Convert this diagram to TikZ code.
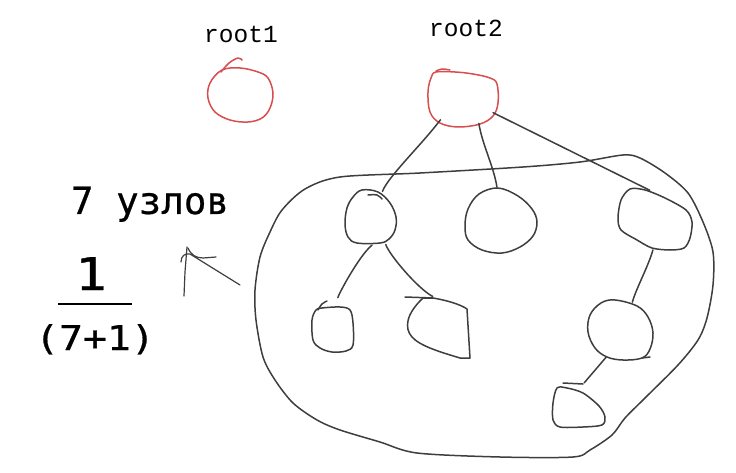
\documentclass[tikz,border=0pt]{standalone}
\usepackage{fontspec}
\usetikzlibrary{shapes.geometric}
\newfontfamily\labelfont{Liberation Mono}
\newfontfamily\notefont[FakeBold=0.6]{DejaVu Sans Mono}
\newfontfamily\fracfont[FakeStretch=1.17,FakeBold=0.8]{DejaVu Sans Mono}
\definecolor{inkgray}{RGB}{62,62,62}
\definecolor{inkred}{RGB}{216,78,78}

\begin{document}
\begin{tikzpicture}[x=1pt,y=-1pt,
  ink/.style={draw=inkgray, line width=1.5pt, line cap=round, line join=round},
  redink/.style={draw=inkred, line width=1.5pt, line cap=round, line join=round},
  spot/.style 2 args={ellipse, minimum width=#1, minimum height=#2, inner sep=0pt, outer sep=0pt},
  rootlabel/.style={font=\labelfont\fontsize{24.5}{28}\selectfont, anchor=base, inner sep=0pt},
  note/.style={font=\notefont\fontsize{37.5}{42}\selectfont, anchor=base, inner sep=0pt},
  fracnum/.style={font=\fracfont\fontsize{45}{50}\selectfont, anchor=base, inner sep=0pt},
  fracden/.style={font=\fracfont\fontsize{34}{40}\selectfont, anchor=base, inner sep=0pt},
  fracbar/.style={draw=black, line width=2.6pt}
]
\useasboundingbox (0,0) rectangle (736,473);

% ---- anchor spots for the tree nodes ----
\node[spot={65pt}{55pt}] (r1) at (240,94) {};
\node[spot={70pt}{57pt}] (r2) at (463,98) {};
\node[spot={52pt}{55pt}] (a) at (371,216) {};
\node[spot={72pt}{66pt}] (b) at (501,220) {};
\node[spot={74pt}{60pt}] (c) at (655,220) {};
\node[spot={42pt}{46pt}] (d) at (332,329) {};
\node[spot={64pt}{62pt}] (e) at (438,327) {};
\node[spot={66pt}{60pt}] (f) at (620,330) {};
\node[spot={52pt}{45pt}] (g) at (579,405) {};

% ---- labels ----
\node[rootlabel] (t1) at (241,43) {root1};
\node[rootlabel] (t2) at (466,37) {root2};
\node[note] (count) at (150,214) {7 узлов};
\node[fracnum] (num) at (91,290) {1};
\node[fracden] (den) at (95,350) {(7+1)};
\draw[fracbar] (58,304) -- (132,304);

% ---- root outlines (red) ----
\draw[redink] plot[smooth cycle, tension=0.6] coordinates {(222,70) (240,68) (258,72) (268,78) (273,93) (270,108) (262,118) (248,122) (230,120) (215,112) (208,98) (210,83)};
\draw[redink] plot[smooth, tension=0.6] coordinates {(221,72) (229,63) (238,58) (242,60)};
\draw[redink] plot[smooth cycle, tension=0.6] coordinates {(436,72) (455,72) (473,74) (490,78) (497,84) (498,103) (493,116) (480,124) (458,127) (440,123) (430,112) (428,92) (431,78)};
\draw[redink] plot[smooth, tension=0.6] coordinates {(436,71) (442,69) (450,70)};

% ---- enclosing outline ----
\draw[ink] plot[smooth cycle, tension=0.5] coordinates {
  (340,177) (420,173) (523,167) (580,162) (623,155) (640,158) (665,173)
  (688,193) (703,222) (713,252) (713,285) (707,318) (698,340) (678,365)
  (645,398) (625,418) (612,435) (590,450) (573,457) (500,457) (417,453)
  (380,442) (340,430) (317,420) (293,403) (275,380) (263,357) (256,320)
  (255,290) (260,257) (270,232) (282,210) (305,189)};

% ---- child outlines ----
\draw[ink] plot[smooth cycle, tension=0.6] coordinates {(362,190) (378,192) (390,203) (396,217) (395,230) (389,239) (380,243) (357,243) (348,237) (345,224) (347,208) (353,197)};
\draw[ink] plot[smooth, tension=0.6] coordinates {(368,195) (377,195) (382,199)};
\draw[ink] plot[smooth cycle, tension=0.6] coordinates {(498,188) (518,196) (532,209) (537,222) (533,236) (520,247) (502,253) (482,250) (468,240) (465,226) (468,209) (479,194)};
\draw[ink] plot[smooth cycle, tension=0.5] coordinates {(630,189) (645,190) (665,198) (686,210) (692,222) (690,238) (684,248) (670,250) (652,248) (637,240) (621,230) (618,218) (621,200)};
\draw[ink] plot[smooth cycle, tension=0.55] coordinates {(322,308) (340,307) (350,310) (353,323) (353,345) (346,351) (332,352) (320,348) (313,340) (312,320) (316,310)};
\draw[ink] plot[smooth, tension=0.6] coordinates {(318,310) (322,304) (327,301)};
\draw[ink] (423,298) -- (433,298) .. controls (445,300) and (460,304) .. (467,309)
  -- (470,358) -- (460,358) .. controls (440,352) and (420,346) .. (412,337)
  .. controls (404,328) and (406,314) .. (423,298);
\draw[ink] (405,297) -- (433,298);
\draw[ink] plot[smooth cycle, tension=0.6] coordinates {(615,300) (637,306) (648,317) (653,333) (650,349) (642,358) (623,360) (607,357) (595,348) (588,332) (590,315) (601,303)};
\draw[ink] (642,358) -- (650,357);
\draw[ink] plot[smooth cycle, tension=0.5] coordinates {(567,388) (583,393) (599,406) (605,417) (602,425) (583,427) (560,427) (553,420) (553,403) (557,388)};
\draw[ink] (563,383) -- (583,384);

% ---- connectors ----
\draw[ink] (r2.-136) .. controls +(-18,24) and +(5,-14) .. (a.65);
\draw[ink] (r2.-58) .. controls +(3,20) and +(-3,-20) .. (b.97);
\draw[ink] (r2.-26) -- (c.100);
\draw[ink, shorten <=3pt, shorten >=9pt] (a.-83) .. controls +(-15,12) and +(2,-12) .. (d.79);
\draw[ink, shorten <=5pt] (a.-61) .. controls +(5,15) and +(-15,-8) .. (e.100);
\draw[ink] (c.-94) .. controls +(-4,15) and +(3,-12) .. (f.66.5);
\draw[ink] (f.-117.5) -- (g.77);

% ---- scribbled mark ----
\draw[ink, line width=1.2pt] (187,247) -- (185,272) -- (184,296);
\draw[ink, line width=1.2pt] (181,262) .. controls (181,256) and (185,253) .. (190,254) -- (240,285);
\draw[ink, line width=1.2pt] (188,248) .. controls (191,255) and (196,258) .. (203,258) -- (216,257);
\end{tikzpicture}
\end{document}
